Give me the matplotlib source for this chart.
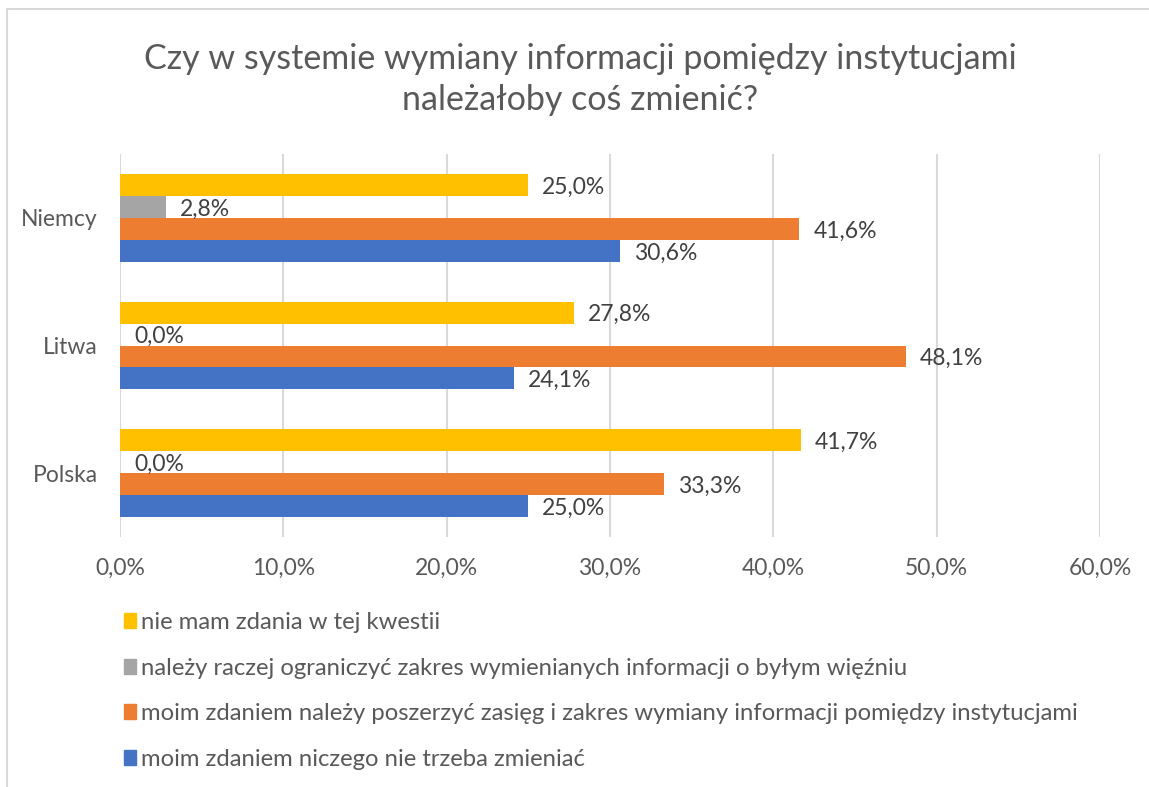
import matplotlib.pyplot as plt
from matplotlib.patches import Rectangle, Patch
import numpy as np

plt.rcParams['font.family'] = ['Lato', 'DejaVu Sans']

categories = ['Polska', 'Litwa', 'Niemcy']
nie_mam = [41.7, 27.8, 25.0]
ograniczyc = [0.0, 0.0, 2.8]
poszerzyc = [33.3, 48.1, 41.6]
niczego = [25.0, 24.1, 30.6]

labels = [
    'moim zdaniem niczego nie trzeba zmieniać',
    'moim zdaniem należy poszerzyć zasięg i zakres wymiany informacji pomiędzy instytucjami',
    'należy raczej ograniczyć zakres wymienianych informacji o byłym więźniu',
    'nie mam zdania w tej kwestii',
]
series = [niczego, poszerzyc, ograniczyc, nie_mam]
colors = ['#4472C4', '#ED7D31', '#A5A5A5', '#FFC000']
xticks = [0, 10, 20, 30, 40, 50, 60]

W, H = 1149, 787
fig = plt.figure(figsize=(W / 100, H / 100), dpi=100)
ax = fig.add_axes([120 / W, 1 - 537 / H, 980 / W, 383 / H])

text_c = '#595959'
fs = 16.5
h = 0.172
y = np.arange(len(categories))
for i, (vals, col, lab) in enumerate(zip(series, colors, labels)):
    offs = (i - 1.5) * h
    ax.barh(y + offs, vals, height=h, color=col, label=lab, zorder=3)
    for yy, v in zip(y + offs, vals):
        ax.annotate(f'{v:.1f}%'.replace('.', ','), (v, yy), xytext=(10, -1.5),
                    textcoords='offset points', ha='left', va='center',
                    fontsize=fs, color='#404040')

ax.set_xlim(0, 60)
ax.set_ylim(-0.5, 2.5)
ax.set_xticks(xticks)
ax.set_xticklabels([f'{t:.1f}%'.replace('.', ',') for t in xticks])
ax.set_yticks(y)
ax.set_yticklabels(categories)
ax.tick_params(length=0, labelsize=fs, colors=text_c)
ax.tick_params(axis='x', pad=15)
ax.tick_params(axis='y', pad=16)
ax.grid(axis='x', color='#D9D9D9', lw=1.5, zorder=0)
for s in ax.spines.values():
    s.set_visible(False)

fig.suptitle('Czy w systemie wymiany informacji pomiędzy instytucjami\nnależałoby coś zmienić?',
             x=0.505, y=1 - 43 / H, va='top', fontsize=24.5, color=text_c, linespacing=1.33)

leg_handles = [Patch(color=c) for c in colors[::-1]]
fig.legend(leg_handles, labels[::-1], loc='upper left',
           bbox_to_anchor=(124 / W, 1 - 612 / H), frameon=False,
           fontsize=17.2, labelcolor=text_c, handlelength=0.5, handleheight=0.58,
           handletextpad=0.2, labelspacing=1.03, borderaxespad=0, borderpad=0)

fig.patches.append(Rectangle((7 / W, -0.1), 1.2, 1.1 - 9 / H, transform=fig.transFigure,
                             fill=False, ec='#D9D9D9', lw=1.5))

fig.savefig('out.png', dpi=100)
